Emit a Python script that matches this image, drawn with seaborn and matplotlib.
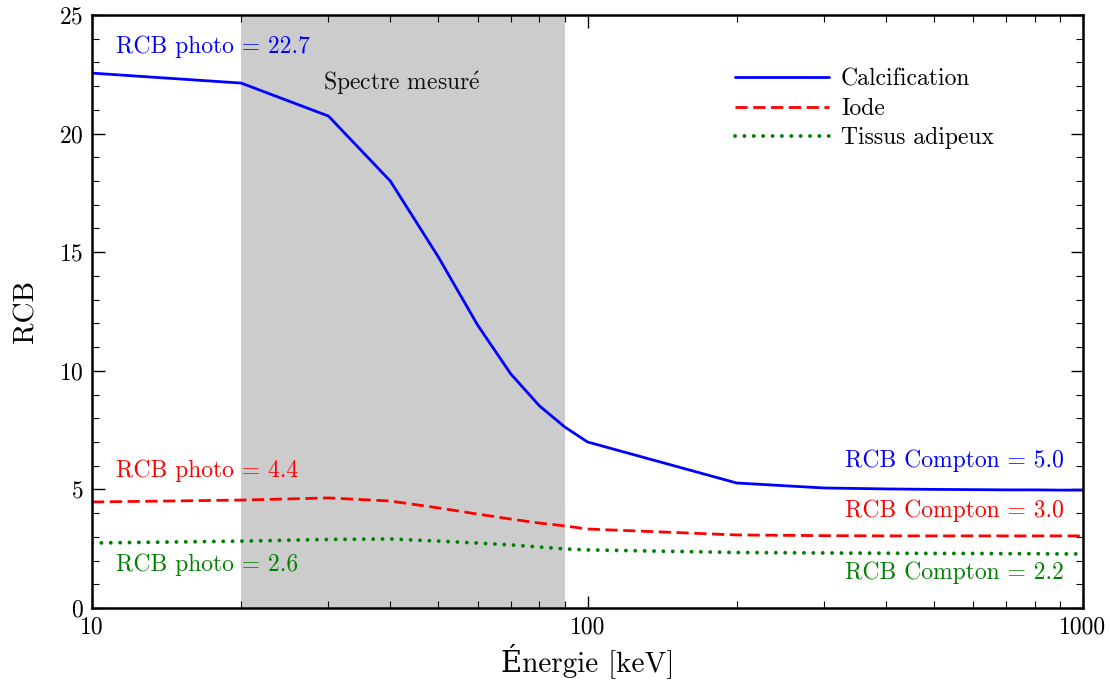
import numpy as np
import pandas as pd
import seaborn as sns
import matplotlib
matplotlib.use("Agg")
import matplotlib.pyplot as plt
from matplotlib.ticker import FixedLocator, FixedFormatter, MultipleLocator, LogLocator, NullFormatter

# ---- data ----
energy = [10, 20, 30, 40, 50, 60, 70, 80, 90, 100, 200, 300, 400, 500, 600, 700, 800, 900, 1000]
calcification = [22.55, 22.13, 20.74, 18.0, 14.8, 11.93, 9.87, 8.52, 7.63, 7.0, 5.27, 5.06, 5.02, 5.0, 4.99, 4.98, 4.98, 4.97, 4.97]
iode = [4.47, 4.55, 4.64, 4.51, 4.22, 3.96, 3.75, 3.58, 3.46, 3.33, 3.08, 3.05, 3.04, 3.04, 3.04, 3.04, 3.04, 3.04, 3.04]
tissus = [2.74, 2.82, 2.89, 2.91, 2.82, 2.74, 2.66, 2.57, 2.49, 2.45, 2.34, 2.32, 2.31, 2.30, 2.30, 2.29, 2.29, 2.28, 2.28]
series_names = ["Calcification", "Iode", "Tissus adipeux"]
series_colors = ["#0000ff", "#ff0000", "#008000"]
span = (20, 90)
x_ticks = [10, 100, 1000]
x_ticklabels = ["10", "100", "1000"]

sns.set_style("ticks")
plt.rcParams["font.family"] = ["cmr10", "DejaVu Serif"]
plt.rcParams["mathtext.fontset"] = "cm"
plt.rcParams["axes.formatter.use_mathtext"] = True
plt.rcParams["text.color"] = "black"
plt.rcParams["axes.labelcolor"] = "black"

fig = plt.figure(figsize=(11.1, 6.85), dpi=100)
ax = fig.add_axes([92/1110, 1-608/685, (1083-92)/1110, (608-15)/685])

ax.axvspan(span[0], span[1], color="#cccccc", lw=0, zorder=0)

df = pd.DataFrame({"energy": energy, "Calcification": calcification,
                   "Iode": iode, "Tissus adipeux": tissus})
styles = [dict(linestyle="-", lw=2.0),
          dict(linestyle=(0, (4.4, 2.0)), lw=2.0),
          dict(linestyle=(0, (0.01, 2.4)), lw=2.8, dash_capstyle="round")]
for name, col, st in zip(series_names, series_colors, styles):
    sns.lineplot(data=df, x="energy", y=name, ax=ax, color=col, label=name, **st)

ax.set_xscale("log")
ax.set_xlim(10, 1000)
ax.set_ylim(0, 25)
ax.xaxis.set_major_locator(FixedLocator(x_ticks))
ax.xaxis.set_major_formatter(FixedFormatter(x_ticklabels))
ax.xaxis.set_minor_locator(LogLocator(base=10, subs=np.arange(2, 10)))
ax.xaxis.set_minor_formatter(NullFormatter())
ax.yaxis.set_major_locator(MultipleLocator(5))
ax.yaxis.set_minor_locator(MultipleLocator(1))

for s in ax.spines.values():
    s.set_linewidth(1.8)
    s.set_color("black")
ax.tick_params(which="both", direction="in", top=True, right=True, labelsize=17,
               colors="black", labelcolor="black")
ax.tick_params(which="major", length=9, width=1.0, pad=6)
ax.tick_params(which="minor", length=5, width=0.8)

ax.set_xlabel("Énergie [keV]", fontsize=21, labelpad=3)
ax.set_ylabel("RCB", fontsize=21, labelpad=14)

tfs = 17
ax.text(11.18, 23.65, "RCB photo = 22.7", color="#0000ff", fontsize=tfs, va="center")
ax.text(11.18, 5.78, "RCB photo = 4.4", color="#ff0000", fontsize=tfs, va="center")
ax.text(11.18, 1.81, "RCB photo = 2.6", color="#008000", fontsize=tfs, va="center")
ax.text(915, 6.2, "RCB Compton = 5.0", color="#0000ff", fontsize=tfs, va="center", ha="right")
ax.text(915, 4.09, "RCB Compton = 3.0", color="#ff0000", fontsize=tfs, va="center", ha="right")
ax.text(915, 1.48, "RCB Compton = 2.2", color="#008000", fontsize=tfs, va="center", ha="right")
ax.text(42.2, 22.13, r"Spectre mesur$\mathrm{\acute{e}}$", color="#111111", fontsize=tfs,
        va="center", ha="center")

leg = ax.legend(loc="upper left", frameon=False, fontsize=tfs, handlelength=4.0,
                handletextpad=0.5, labelspacing=0.3, borderaxespad=0,
                bbox_to_anchor=(0.639, 0.9258))
for t in leg.get_texts():
    t.set_color("black")

fig.savefig("out.png", dpi=100)
